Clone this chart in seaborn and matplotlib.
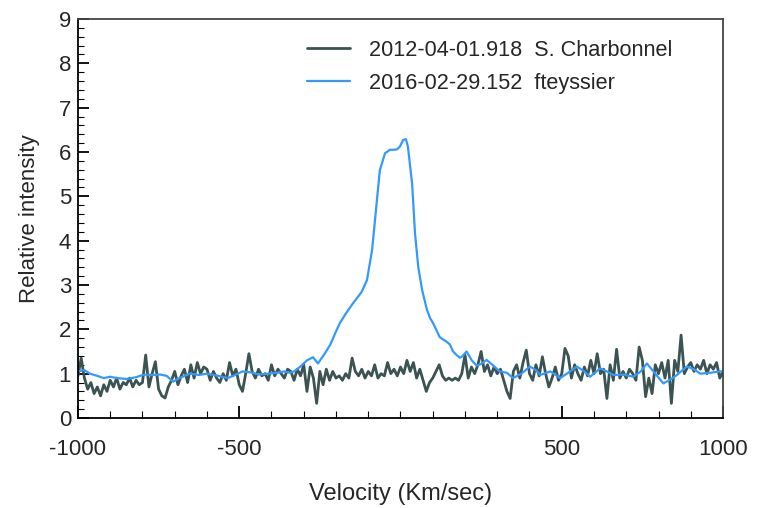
import numpy as np
import pandas as pd
import matplotlib
matplotlib.use("Agg")
import matplotlib.pyplot as plt
import seaborn as sns
from matplotlib.ticker import MultipleLocator

# 데이터
label_a = "2012-04-01.918  S. Charbonnel"
label_b = "2016-02-29.152  fteyssier"

vel_a = np.arange(-1000, 1001, 10)
int_a = [
    0.95, 1.35, 0.9, 0.65, 0.8, 0.55, 0.7, 0.5, 0.75, 0.6,
    0.85, 0.7, 0.9, 0.65, 0.8, 0.75, 0.9, 0.7, 0.85, 0.75,
    0.8, 1.42, 0.7, 1.0, 1.27, 0.65, 0.5, 0.45, 0.7, 0.85,
    1.05, 0.75, 0.95, 1.1, 0.8, 1.2, 0.9, 1.25, 1.0, 1.15,
    1.1, 0.85, 1.05, 0.9, 0.8, 1.0, 0.85, 1.25, 0.95, 1.1,
    0.75, 0.6, 1.0, 1.45, 1.05, 0.9, 1.1, 0.95, 1.0, 0.85,
    1.2, 0.95, 1.1, 1.0, 0.9, 1.1, 1.05, 0.85, 1.1, 0.95,
    1.2, 0.6, 1.15, 0.9, 0.33, 1.05, 0.75, 1.1, 0.85, 1.05,
    0.9, 0.95, 0.85, 1.0, 0.9, 1.35, 1.05, 0.95, 1.1, 0.9,
    1.05, 0.95, 1.2, 0.9, 1.0, 0.95, 1.25, 1.0, 1.1, 0.95,
    1.15, 1.0, 1.3, 1.05, 1.25, 0.9, 1.1, 0.85, 0.6, 0.8,
    0.9, 1.05, 1.2, 0.95, 0.85, 0.9, 0.85, 0.9, 0.85, 1.0,
    1.42, 0.9, 1.15, 1.0, 1.2, 1.5, 1.05, 1.2, 0.95, 1.15,
    1.0, 1.1, 0.85, 0.6, 0.44, 1.05, 1.2, 0.9, 1.25, 1.53,
    1.0, 0.85, 1.2, 0.95, 1.38, 1.0, 0.7, 0.9, 1.15, 0.85,
    1.0, 1.57, 1.4, 0.9, 1.2, 1.0, 0.85, 1.15, 0.95, 1.3,
    1.0, 1.45, 1.0, 1.1, 0.44, 1.2, 0.85, 1.55, 0.9, 1.05,
    0.9, 1.1, 1.0, 0.85, 1.6, 1.3, 0.48, 0.9, 0.55, 1.2,
    1.0, 1.25, 0.9, 1.3, 0.33, 1.3, 1.05, 1.87, 1.0, 1.15,
    1.25, 1.05, 1.2, 1.1, 1.3, 1.0, 1.2, 1.1, 1.25, 0.9, 1.05,
]

vel_b = [-1000, -980, -963, -940, -920, -900, -880, -848, -820, -795, -770,
         -745, -725, -705, -685, -653, -625, -600, -565, -535, -510, -490,
         -465, -440, -410, -383, -360, -343, -330, -312, -290, -271, -256,
         -235, -218, -200, -188, -170, -147, -130, -120, -104, -88, -73,
         -64, -48, -33, -20, -11, -2, 8, 17, 23, 36, 45, 55, 67, 82, 92,
         101, 122, 143, 153, 163, 174, 184, 190, 205, 221, 236, 250, 267,
         285, 308, 330, 349, 375, 401, 420, 433, 465, 495, 520, 547, 570,
         588, 619, 640, 660, 690, 722, 745, 764, 790, 815, 840, 857, 888,
         910, 929, 960, 991, 1000]
int_b = [1.05, 1.08, 1.0, 0.95, 0.9, 0.93, 0.9, 0.88, 0.92, 0.98, 0.97,
         0.98, 0.95, 0.82, 0.9, 1.0, 0.97, 1.0, 0.95, 0.9, 0.98, 1.05,
         1.03, 0.98, 1.0, 1.02, 1.05, 1.02, 1.05, 1.15, 1.3, 1.37, 1.23,
         1.45, 1.65, 1.95, 2.14, 2.35, 2.59, 2.75, 2.85, 3.11, 3.79, 4.92,
         5.59, 5.97, 6.05, 6.05, 6.06, 6.12, 6.27, 6.29, 6.12, 5.29, 4.17,
         3.41, 2.89, 2.44, 2.25, 2.14, 1.82, 1.72, 1.66, 1.5, 1.42, 1.36,
         1.38, 1.5, 1.3, 1.18, 1.22, 1.31, 1.2, 1.05, 1.02, 0.9, 1.0, 1.16,
         1.08, 0.97, 1.05, 0.9, 1.02, 1.16, 1.05, 0.93, 1.12, 1.05, 0.97,
         0.98, 0.93, 1.05, 1.23, 1.0, 0.78, 0.88, 0.97, 1.16, 1.1, 1.0,
         1.02, 1.05, 1.05]

df_a = pd.DataFrame({"vel": vel_a, "intensity": int_a})
df_b = pd.DataFrame({"vel": vel_b, "intensity": int_b})

sns.set_theme(style="white")
plt.rcParams["font.family"] = ["Liberation Sans", "DejaVu Sans"]

fig = plt.figure(figsize=(7.57, 5.08), dpi=100)
ax = fig.add_axes([0.1030, 0.1772, 0.8521, 0.7854])

sns.lineplot(data=df_a, x="vel", y="intensity", ax=ax, color="#3b5351",
             linewidth=2.0, estimator=None, sort=False, label=label_a)
sns.lineplot(data=df_b, x="vel", y="intensity", ax=ax, color="#3399ff",
             linewidth=1.6, estimator=None, sort=False, label=label_b)

ax.set_xlim(-1000, 1000)
ax.set_ylim(0, 9)
ax.xaxis.set_major_locator(MultipleLocator(500))
ax.xaxis.set_minor_locator(MultipleLocator(100))
ax.yaxis.set_major_locator(MultipleLocator(1))
ax.yaxis.set_minor_locator(MultipleLocator(0.2))
ax.set_xticks([-1000, -500, 500, 1000])
ax.set_xticklabels(["-1000", "-500", "500", "1000"])

ax.tick_params(axis="both", which="both", direction="in", color="black",
               left=True, bottom=True, top=False, right=False)
ax.tick_params(axis="x", which="major", length=9, width=1.3, pad=15,
               labelsize=16)
ax.tick_params(axis="x", which="minor", length=5, width=0.8)
ax.tick_params(axis="y", which="major", length=8, width=1.3, pad=5,
               labelsize=16)
ax.tick_params(axis="y", which="minor", length=4.5, width=0.8)

for s in ax.spines.values():
    s.set_color("black")
    s.set_linewidth(1.3)
ax.spines["right"].set_color("#444444")
ax.spines["top"].set_color("#444444")

ax.set_xlabel("Velocity (Km/sec)", fontsize=17, labelpad=17)
ax.set_ylabel("Relative intensity", fontsize=16, labelpad=13)

ax.legend(loc="upper left", bbox_to_anchor=(0.338, 0.975), frameon=False,
          fontsize=15.6, handlelength=2.0, handletextpad=0.85,
          labelspacing=0.55, borderpad=0)

fig.savefig("out.png", dpi=100)
